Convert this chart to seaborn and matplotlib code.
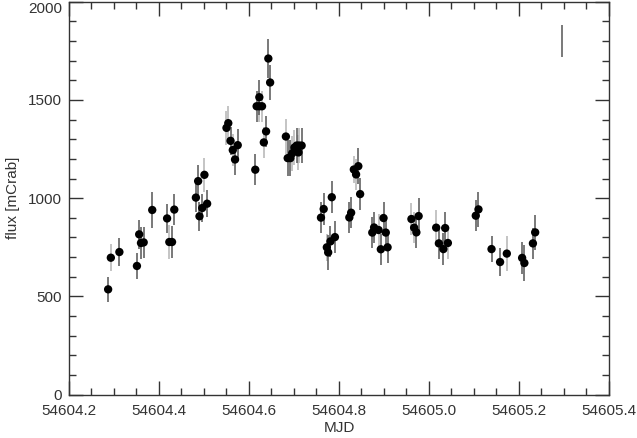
import numpy as np
import pandas as pd
import matplotlib
matplotlib.use('Agg')
import matplotlib.pyplot as plt
from matplotlib.ticker import MultipleLocator
import seaborn as sns

# ------------------------------
# Данные кривой блеска
# ------------------------------
mjd = [54604.287, 54604.293, 54604.312, 54604.351, 54604.356, 54604.360, 54604.366,
       54604.385, 54604.418, 54604.423, 54604.429, 54604.434, 54604.482, 54604.487,
       54604.490, 54604.496, 54604.501, 54604.507, 54604.550, 54604.554, 54604.559,
       54604.564, 54604.569, 54604.575, 54604.614, 54604.617, 54604.623, 54604.623,
       54604.629, 54604.633, 54604.638, 54604.643, 54604.647, 54604.682, 54604.686,
       54604.692, 54604.696, 54604.701, 54604.706, 54604.711, 54604.717, 54604.710,
       54604.760, 54604.766, 54604.773, 54604.776, 54604.781, 54604.784, 54604.791,
       54604.823, 54604.827, 54604.833, 54604.838, 54604.843, 54604.847, 54604.874,
       54604.878, 54604.888, 54604.893, 54604.899, 54604.904, 54604.908, 54604.961,
       54604.967, 54604.972, 54604.977, 54605.016, 54605.022, 54605.032, 54605.036,
       54605.042, 54605.104, 54605.110, 54605.139, 54605.158, 54605.173, 54605.207,
       54605.212, 54605.231, 54605.236]
flux = [536, 697, 726, 655, 816, 772, 775,
        940, 897, 777, 777, 942, 1003, 1087,
        908, 950, 1119, 972, 1358, 1382, 1292,
        1245, 1197, 1270, 1145, 1468, 1514, 1468,
        1468, 1284, 1340, 1711, 1589, 1314, 1204,
        1204, 1228, 1258, 1268, 1268, 1268, 1233,
        901, 945, 750, 724, 780, 1005, 802,
        902, 926, 1146, 1121, 1163, 1021, 825,
        851, 838, 740, 899, 825, 750, 894,
        850, 826, 909, 850, 770, 741, 848,
        772, 911, 943, 741, 675, 718, 696,
        670, 770, 826]
err = [65, 70, 70, 65, 75, 80, 80,
       90, 75, 85, 80, 80, 75, 80,
       75, 70, 85, 70, 85, 85, 70,
       80, 80, 80, 80, 80, 90, 80,
       80, 80, 80, 100, 90, 90, 90,
       90, 90, 90, 90, 90, 90, 90,
       80, 80, 70, 90, 80, 80, 80,
       80, 80, 70, 80, 90, 80, 80,
       80, 80, 80, 80, 80, 80, 80,
       80, 80, 90, 90, 80, 80, 80,
       80, 80, 90, 65, 70, 90, 80,
       90, 80, 90]
# 1 = светло-серая полоса ошибки, 0 = тёмная
light = [0, 1, 0, 0, 0, 0, 0,
         0, 0, 1, 0, 0, 0, 0,
         0, 0, 1, 0, 1, 1, 0,
         1, 0, 0, 0, 0, 0, 1,
         1, 1, 0, 0, 0, 1, 0,
         0, 1, 1, 0, 1, 0, 1,
         0, 0, 1, 0, 0, 0, 0,
         0, 0, 1, 1, 0, 0, 0,
         0, 1, 0, 0, 0, 0, 1,
         1, 0, 0, 1, 0, 0, 0,
         1, 0, 0, 0, 0, 1, 0,
         0, 0, 0]

# типичная ошибка (отдельная полоса справа вверху)
typ_mjd = 54605.296
typ_flux = 1800
typ_err = 80

y_ticks = [0, 500, 1000, 1500, 2000]
y_labels = ['0', '500', '1000', '1500', '2000']

df = pd.DataFrame({'MJD': mjd, 'flux': flux, 'err': err, 'light': light})

sns.set_style('ticks')
plt.rcParams['font.family'] = ['Liberation Sans', 'DejaVu Sans']

fig = plt.figure(figsize=(6.37, 4.38), dpi=100)
ax = fig.add_axes([0.1083, 0.099, 0.8477, 0.897])

for is_light, col in [(1, '#b4b4b4'), (0, '#555555')]:
    sub = df[df['light'] == is_light]
    ax.vlines(sub['MJD'], sub['flux'] - sub['err'], sub['flux'] + sub['err'],
              color=col, linewidth=1.1, zorder=2)

sns.scatterplot(data=df, x='MJD', y='flux', ax=ax, color='black', s=36,
                edgecolor='none', zorder=3, legend=False)

ax.vlines([typ_mjd], [typ_flux - typ_err], [typ_flux + typ_err],
          color='#555555', linewidth=1.1)

ax.set_xlim(54604.2, 54605.4)
ax.set_ylim(0, 2000)
ax.xaxis.set_major_locator(MultipleLocator(0.2))
ax.xaxis.set_minor_locator(MultipleLocator(0.05))
ax.set_yticks(y_ticks, y_labels)
ax.yaxis.set_minor_locator(MultipleLocator(100))
ax.xaxis.set_major_formatter(plt.FuncFormatter(lambda v, p: f'{v:.1f}'))
ax.tick_params(which='both', direction='in', top=True, right=True,
               color='#333333', labelsize=11, labelcolor='#333333')
ax.tick_params(which='major', length=10, width=1)
ax.tick_params(which='minor', length=5, width=1)
ax.tick_params(axis='x', pad=7)
ax.tick_params(axis='y', pad=5)
for s in ax.spines.values():
    s.set_color('#333333')
    s.set_linewidth(1)

ax.set_xlabel('MJD', fontsize=11, color='#333333', labelpad=2)
ax.set_ylabel('flux [mCrab]', fontsize=11, color='#333333', labelpad=6)

# верхняя подпись 2000 не должна вылезать за край
ax.get_yticklabels()[-1].set_verticalalignment('top')

fig.savefig('out.png', dpi=100)
